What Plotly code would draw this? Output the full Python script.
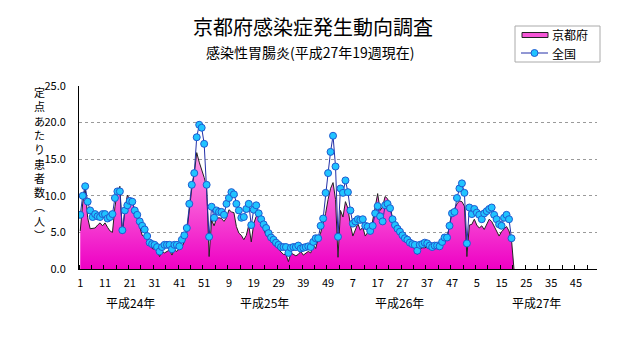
import plotly.graph_objects as go

# ---- data ----
kyoto = [
    5.2, 9.0, 11.0, 7.0, 5.5, 5.6, 5.6, 6.0, 6.3, 5.9, 6.3, 5.7, 5.2, 5.0, 8.5, 10.5, 11.3, 4.8, 8.0, 10.1,
    9.5, 9.2, 8.0, 6.7, 5.6, 4.6, 4.4, 4.0, 3.3, 2.8, 2.7, 2.6, 1.7, 2.4, 2.2, 2.4, 2.6, 1.9, 2.6, 2.4,
    2.8, 3.0, 3.7, 5.0, 8.0, 11.0, 13.0, 15.9, 14.6, 13.6, 12.5, 11.2,
    1.7, 6.7, 5.9, 6.9, 7.0, 6.9, 6.5, 7.0, 8.1, 7.8, 7.7, 5.8, 4.9, 4.6, 4.0, 4.6, 6.0, 3.7,
    6.2, 7.2, 7.1, 6.3, 5.4, 4.6, 4.2, 3.7, 3.3, 3.0, 2.7, 2.4, 2.0, 2.0, 1.0, 2.2, 2.0, 1.8, 2.0, 2.4,
    1.9, 2.1, 2.4, 2.2, 3.3, 2.8, 4.2, 4.9, 6.2, 7.6, 9.5, 11.0, 11.8, 9.5,
    1.6, 8.0, 7.1, 9.2, 8.3, 6.0, 4.5, 5.5, 6.2, 5.3, 5.7, 4.5, 5.0, 4.8, 6.7, 8.5, 10.3, 8.0, 8.5, 9.9,
    9.6, 8.7, 6.9, 6.2, 5.5, 4.7, 4.2, 3.8, 3.5, 3.2, 3.0, 2.8, 2.0, 2.7, 2.9, 2.9, 3.0, 2.7, 2.8, 2.9,
    3.0, 2.9, 3.3, 3.9, 4.2, 6.0, 7.9, 8.2, 8.9, 9.3, 9.2, 8.6,
    1.7, 6.0, 6.1, 6.8, 6.0, 5.6, 5.9, 5.4, 6.2, 6.8, 6.5, 5.9, 5.2, 4.5, 5.1, 5.4, 5.8, 5.2, 4.0, 0.0,
]
national = [
    7.4, 10.0, 11.3, 9.2, 8.0, 7.1, 7.5, 7.2, 7.1, 7.5, 7.5, 6.9, 7.1, 7.5, 9.7, 10.6, 10.6, 5.3, 8.0, 8.7,
    9.3, 9.2, 8.0, 7.4, 6.5, 5.9, 5.4, 4.5, 3.6, 3.4, 3.3, 3.0, 2.4, 3.0, 3.3, 3.3, 3.3, 2.7, 3.3, 3.3,
    3.1, 4.0, 4.6, 5.6, 8.9, 11.5, 13.1, 18.0, 19.7, 19.3, 17.1, 11.5,
    4.4, 8.5, 7.0, 8.0, 7.8, 7.8, 7.4, 8.9, 9.7, 10.5, 10.2, 8.9, 8.0, 7.0, 7.1, 8.2, 8.9, 6.0,
    8.1, 8.7, 7.6, 6.8, 6.1, 5.6, 4.9, 4.3, 4.0, 3.6, 3.3, 3.0, 3.0, 3.0, 2.2, 2.9, 3.0, 3.0, 3.2, 2.8,
    2.9, 3.0, 3.1, 3.0, 3.7, 4.2, 4.2, 5.9, 6.9, 10.4, 13.1, 16.0, 18.2, 14.0,
    4.4, 11.0, 10.4, 12.1, 10.5, 8.0, 6.2, 6.5, 6.8, 6.7, 6.8, 5.9, 5.8, 5.2, 5.9, 7.6, 8.6, 7.2, 6.5, 8.7,
    8.9, 8.3, 6.8, 6.0, 5.5, 5.1, 4.6, 4.2, 4.0, 3.6, 3.4, 3.3, 2.5, 3.3, 3.4, 3.6, 3.5, 3.2, 3.0, 3.2,
    3.2, 3.1, 3.7, 4.3, 4.3, 5.9, 7.6, 7.8, 9.7, 11.0, 11.7, 10.4,
    3.5, 8.4, 7.5, 8.2, 7.7, 7.4, 6.8, 7.6, 7.9, 8.2, 8.4, 7.4, 6.8, 6.1, 5.9, 7.0, 7.4, 6.8, 4.2,
]
week_tick_labels = ["1", "11", "21", "31", "41", "51", "9", "19", "29", "39", "49",
                    "7", "17", "27", "37", "47", "5", "15", "25", "35", "45"]
year_labels = ["平成24年", "平成25年", "平成26年", "平成27年"]
year_label_pos = [20.2, 74.3, 129.0, 184.0]
n_weeks = 209  # 2012-2015 (52+52+52+53)
series_names = ["京都府", "全国"]
title_text = "京都府感染症発生動向調査"
subtitle_text = "感染性胃腸炎(平成27年19週現在)"
ytitle_chars = ["定", "点", "あ", "た", "り", "患", "者", "数", "︵", "人", "︶"]

FONT = "Noto Sans CJK JP, Noto Sans, sans-serif"
VFONT = "Liberation Sans, Noto Sans CJK JP, sans-serif"
W, H = 631, 347
L, R, T, B = 79, 34, 86, 78
PW, PH = W - L - R, H - T - B

LINE_C = "#2430a8"
MARK_C = "#20c4ff"
MARK_EDGE = "#1f5ad0"

def px_x(x):
    return (x - L) / PW

def px_y(y):
    return (H - B - y) / PH

fig = go.Figure()
fig.add_trace(go.Scatter(
    x=list(range(len(kyoto))), y=kyoto, name=series_names[0],
    mode="lines", line=dict(color="#222222", width=1),
    fill="tozeroy",
    fillgradient=dict(type="vertical", start=0, stop=max(kyoto),
                      colorscale=[[0, "#ee00c4"], [1, "#ff9be6"]]),
    showlegend=False,
))
fig.add_trace(go.Scatter(
    x=list(range(len(national))), y=national, name=series_names[1],
    mode="lines+markers", line=dict(color=LINE_C, width=1),
    marker=dict(size=7, color=MARK_C, line=dict(color=MARK_EDGE, width=1)),
    showlegend=False,
))

tickvals = [10 * k for k in range(len(week_tick_labels))]
fig.update_xaxes(
    range=[-0.5, n_weeks - 0.5],
    tickvals=tickvals, ticktext=week_tick_labels, ticks="",
    minor=dict(tick0=-0.5, dtick=5, ticks="inside", ticklen=4, tickcolor="black", showgrid=False),
    showgrid=False, zeroline=False,
    showline=True, linecolor="black", linewidth=1,
    tickfont=dict(family=FONT, size=11, color="black"),
    ticklabelstandoff=4,
)
fig.update_yaxes(
    range=[0, 25], dtick=5, tickformat=".1f",
    showgrid=True, gridcolor="#9a9a9a", griddash="dot", gridwidth=1,
    zeroline=False, showline=True, linecolor="black", linewidth=1,
    ticks="", tickfont=dict(family=FONT, size=11, color="black"),
    ticklabelstandoff=10,
)

ann = []
ann.append(dict(text=title_text, x=px_x(313), y=px_y(26), xref="paper", yref="paper",
                showarrow=False, xanchor="center", yanchor="middle",
                font=dict(family=FONT, size=20, color="black")))
ann.append(dict(text=subtitle_text, x=px_x(310), y=px_y(52.5), xref="paper", yref="paper",
                showarrow=False, xanchor="center", yanchor="middle",
                font=dict(family=FONT, size=14, color="black")))
ann.append(dict(text="<br>".join(ytitle_chars), x=px_x(39), y=px_y(85), xref="paper", yref="paper",
                showarrow=False, xanchor="center", yanchor="top", align="center",
                font=dict(family=VFONT, size=11, color="black")))
for lab, xp in zip(year_labels, year_label_pos):
    ann.append(dict(text=lab, x=xp, y=px_y(302), xref="x", yref="paper",
                    showarrow=False, xanchor="center", yanchor="middle",
                    font=dict(family=FONT, size=12, color="black")))

# ---- custom legend (box, swatches, labels) ----
shapes = []
shapes.append(dict(type="rect", xref="paper", yref="paper",
                   x0=px_x(515), x1=px_x(600), y0=px_y(26), y1=px_y(62),
                   line=dict(color="#aaaaaa", width=1), fillcolor="white", layer="above"))
shapes.append(dict(type="rect", xref="paper", yref="paper",
                   x0=px_x(522), x1=px_x(548), y0=px_y(32.5), y1=px_y(37.5),
                   line=dict(color="#222222", width=1), fillcolor="#f455d6", layer="above"))
shapes.append(dict(type="line", xref="paper", yref="paper",
                   x0=px_x(521), x1=px_x(548), y0=px_y(53), y1=px_y(53),
                   line=dict(color=LINE_C, width=1), layer="above"))
shapes.append(dict(type="circle", xref="paper", yref="paper",
                   x0=px_x(531), x1=px_x(538), y0=px_y(49.5), y1=px_y(56.5),
                   line=dict(color=MARK_EDGE, width=1), fillcolor=MARK_C, layer="above"))
ann.append(dict(text=series_names[0], x=px_x(550), y=px_y(35), xref="paper", yref="paper",
                showarrow=False, xanchor="left", yanchor="middle",
                font=dict(family=FONT, size=12, color="black")))
ann.append(dict(text=series_names[1], x=px_x(550), y=px_y(53), xref="paper", yref="paper",
                showarrow=False, xanchor="left", yanchor="middle",
                font=dict(family=FONT, size=12, color="black")))

fig.update_layout(
    width=W, height=H,
    margin=dict(l=L, r=R, t=T, b=B),
    paper_bgcolor="white", plot_bgcolor="white",
    font=dict(family=FONT, color="black"),
    showlegend=False,
    annotations=ann,
    shapes=shapes,
)

fig.write_html("out.html")
